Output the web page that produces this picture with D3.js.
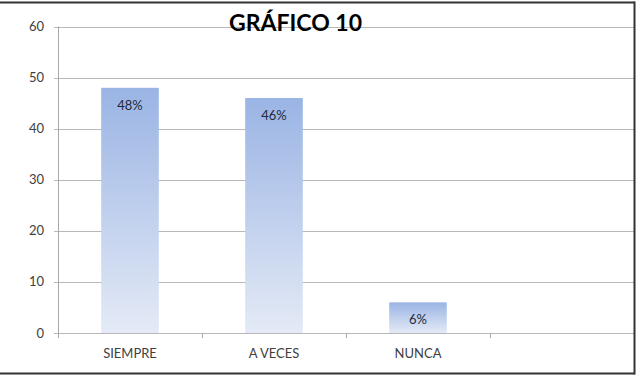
<!DOCTYPE html>
<html><head><meta charset="utf-8">
<script src="https://cdn.jsdelivr.net/npm/d3@7"></script>
<style>body{margin:0;background:#fff}svg{display:block}</style>
</head><body><svg id="c" width="637" height="376"></svg>
<script>
const categories = ["SIEMPRE", "A VECES", "NUNCA", ""];
const values = [48, 46, 6, null];
const valueLabels = ["48%", "46%", "6%", ""];
const yTicks = [0, 10, 20, 30, 40, 50, 60];
const title = "GRÁFICO 10";

const svg = d3.select("#c");
const W = 637, H = 376;
const m = {left: 58, right: 3, top: 26.5, bottom: 43};
const x = d3.scaleBand().domain(categories.map((c,i)=>i)).range([m.left, W - m.right]).paddingInner(0.6).paddingOuter(0.3);
const y = d3.scaleLinear().domain([0, 60]).range([H - m.bottom, m.top]);
const font = "Lato, 'Open Sans', sans-serif";

const defs = svg.append("defs");
const g = defs.append("linearGradient").attr("id","bg").attr("x1",0).attr("y1",0).attr("x2",0).attr("y2",1);
g.append("stop").attr("offset","0%").attr("stop-color","#9ab4e4");
g.append("stop").attr("offset","100%").attr("stop-color","#e4eaf6");

// gridlines
svg.append("g").selectAll("line").data(yTicks).join("line")
  .attr("x1", m.left - 4).attr("x2", W - m.right)
  .attr("y1", d=>Math.round(y(d))+0.5).attr("y2", d=>Math.round(y(d))+0.5)
  .attr("stroke", "#b8b8b8").attr("stroke-width", 1);

// y axis line
svg.append("line").attr("x1", m.left+0.5).attr("x2", m.left+0.5).attr("y1", y(60)).attr("y2", y(0))
  .attr("stroke","#a8a8a8");

// y labels
svg.append("g").selectAll("text").data(yTicks).join("text")
  .attr("x", 44).attr("y", d=>y(d)).attr("dy","0.35em").attr("text-anchor","end")
  .attr("font-family", font).attr("font-size", 13).attr("fill","#404040").text(d=>d);

// x ticks
svg.append("g").selectAll("line").data(categories.map((c,i)=>i).concat([categories.length])).join("line")
  .attr("x1", i=>Math.round(m.left + i*(W-m.right-m.left)/categories.length)+0.5)
  .attr("x2", i=>Math.round(m.left + i*(W-m.right-m.left)/categories.length)+0.5)
  .attr("y1", y(0)).attr("y2", y(0)+5).attr("stroke","#a8a8a8");

// bars
svg.append("g").selectAll("rect").data(values.map((v,i)=>({v,i})).filter(d=>d.v!=null)).join("rect")
  .attr("x", d=>x(d.i)).attr("width", x.bandwidth())
  .attr("y", d=>y(d.v)).attr("height", d=>y(0)-y(d.v))
  .attr("fill","url(#bg)");

// value labels
svg.append("g").selectAll("text").data(values.map((v,i)=>({v,i})).filter(d=>d.v!=null)).join("text")
  .attr("x", d=>x(d.i)+x.bandwidth()/2).attr("y", d=>y(d.v)+22)
  .attr("text-anchor","middle").attr("font-family", font).attr("font-size", 13).attr("fill","#1f2a3a")
  .text(d=>valueLabels[d.i]);

// category labels
svg.append("g").selectAll("text").data(categories).join("text")
  .attr("x", (d,i)=>x(i)+x.bandwidth()/2).attr("y", 358)
  .attr("text-anchor","middle").attr("font-family", font).attr("font-size", 13).attr("fill","#404040")
  .text(d=>d);

// title
svg.append("text").attr("x", 295.5).attr("y", 31).attr("text-anchor","middle")
  .attr("font-family", font).attr("font-weight","bold").attr("font-size", 23).attr("fill","#000")
  .text(title);

// border
svg.append("line").attr("x1",0).attr("x2",635).attr("y1",2.5).attr("y2",2.5).attr("stroke","#333").attr("stroke-width",2);
svg.append("line").attr("x1",0).attr("x2",635).attr("y1",373.5).attr("y2",373.5).attr("stroke","#333").attr("stroke-width",2);
svg.append("line").attr("x1",634.5).attr("x2",634.5).attr("y1",1.5).attr("y2",374.5).attr("stroke","#333").attr("stroke-width",2);
</script></body></html>
